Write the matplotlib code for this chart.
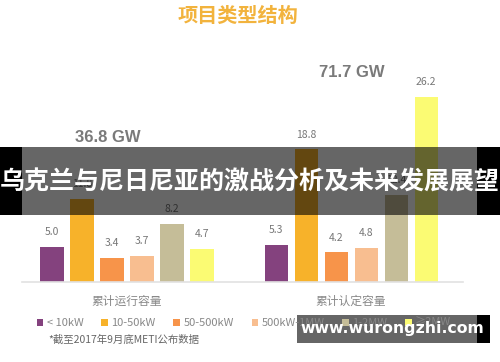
import numpy as np
import matplotlib
matplotlib.use("Agg")
import matplotlib.pyplot as plt
from matplotlib.patches import Patch, Rectangle

plt.rcParams['font.family'] = ['Noto Sans CJK SC', 'DejaVu Sans']

# data
sizes = ['< 10kW', '10-50kW', '50-500kW', '500kW-1MW', '1-2MW', '≥2MW']
colors = ['#84427e', '#f7b22a', '#f7944a', '#f8be90', '#c5bd98', '#fbfb73']
groups = ['累计运行容量', '累计认定容量']
running = [5.0, 11.8, 3.4, 3.7, 8.2, 4.7]
certified = [5.3, 18.8, 4.2, 4.8, 12.4, 26.2]
totals = ['36.8 GW', '71.7 GW']

fig = plt.figure(figsize=(5, 3.62), dpi=100)
ax = fig.add_axes([22 / 500, 80 / 362, 441 / 500, 242 / 362])

offset = 7.47
x_left = np.arange(len(sizes))
x_right = x_left + offset
for xs, vals in [(x_left, running), (x_right, certified)]:
    bars = ax.bar(xs, vals, width=0.77, color=colors)
    for b, v in zip(bars, vals):
        ax.annotate('%.1f' % v, (b.get_x() + b.get_width() / 2, v),
                    xytext=(0, 7), textcoords='offset points',
                    ha='center', va='bottom', fontsize=7.5, color='#777777')

ax.set_xlim(-1, 13.7)
ax.set_ylim(0, 34.3)
for s in ['top', 'right', 'left']:
    ax.spines[s].set_visible(False)
ax.spines['bottom'].set_color('#e2e2e2')
ax.spines['bottom'].set_linewidth(1.2)
ax.set_yticks([])
ax.set_xticks([x_left.mean(), x_right.mean()])
ax.set_xticklabels(groups, fontsize=8.5, color='#888888')
ax.tick_params(axis='x', length=0, pad=9)

# totals
ax.text(1.87, 20.5, totals[0], ha='center', va='center', fontsize=12,
        color='#7a7a7a', fontweight='bold', family=['Liberation Sans'])
ax.text(10.0, 29.7, totals[1], ha='center', va='center', fontsize=12,
        color='#7a7a7a', fontweight='bold', family=['Liberation Sans'])

fig.text(238 / 500, 1 - 15 / 362, '项目类型结构', ha='center', va='center',
         fontsize=14.5, fontweight='bold', color='#f2b33d')

handles = [Patch(facecolor=c, edgecolor='none') for c in colors]
fig.legend(handles, sizes, loc='center', bbox_to_anchor=(244 / 500, 1 - 323 / 362),
           ncol=6, frameon=False, fontsize=8, handlelength=0.6, handleheight=0.6,
           handletextpad=0.3, columnspacing=1.6, labelcolor='#888888')

fig.text(48 / 500, 1 - 340 / 362, '*截至2017年9月底METI公布数据', ha='left', va='center',
         fontsize=7.5, color='#666666')

# overlay banner
fig.patches.append(Rectangle((0, 1 - 215 / 362), 1, 68 / 362, transform=fig.transFigure,
                             facecolor='black', alpha=0.6, edgecolor='none', zorder=5))
fig.patches.append(Rectangle((0, 1 - 215 / 362), 22 / 500, 68 / 362, transform=fig.transFigure,
                             facecolor='black', edgecolor='none', zorder=6))
fig.patches.append(Rectangle((477 / 500, 1 - 215 / 362), 23 / 500, 68 / 362, transform=fig.transFigure,
                             facecolor='black', edgecolor='none', zorder=6))
fig.text(0.5, 1 - 183 / 362, '乌克兰与尼日尼亚的激战分析及未来发展展望', ha='center', va='center',
         fontsize=18, fontweight='bold', color='white', zorder=7)

# watermark
fig.patches.append(Rectangle((297 / 500, 1 - 343 / 362), 180 / 500, 28 / 362, transform=fig.transFigure,
                             facecolor='black', alpha=0.6, edgecolor='none', zorder=5))
fig.patches.append(Rectangle((477 / 500, 1 - 343 / 362), 13 / 500, 28 / 362, transform=fig.transFigure,
                             facecolor='black', edgecolor='none', zorder=6))
fig.text(392 / 500, 1 - 329 / 362, 'www.wurongzhi.com', ha='center', va='center',
         fontsize=11.3, fontweight='bold', color='white', family=['DejaVu Sans'], zorder=7)

fig.savefig('out.png', dpi=100)
